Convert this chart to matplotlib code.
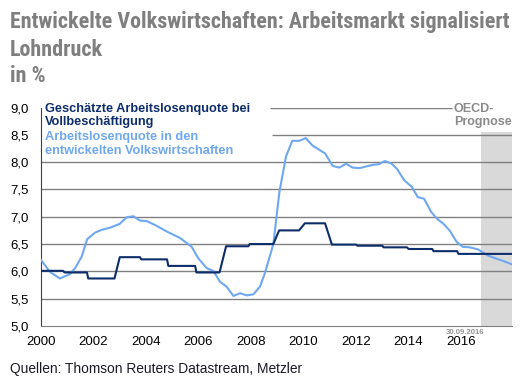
import numpy as np
import matplotlib
matplotlib.use('Agg')
import matplotlib.pyplot as plt

# geschaetzte Arbeitslosenquote bei Vollbeschaeftigung (Stufen)
nairu_t = [2000.0, 2000.84, 2000.9, 2001.75, 2001.8, 2002.8, 2003.0, 2003.77, 2003.82,
           2004.8, 2004.85, 2005.87, 2005.92, 2006.8, 2007.05, 2007.9, 2007.95, 2008.85,
           2009.07, 2009.83, 2010.05, 2010.82, 2011.08, 2012.0, 2012.05, 2013.0, 2013.05,
           2013.94, 2014.0, 2014.9, 2014.95, 2015.85, 2015.9, 2017.94]
nairu_v = [6.01, 6.01, 5.98, 5.98, 5.87, 5.87, 6.26, 6.26, 6.22,
           6.22, 6.10, 6.10, 5.98, 5.98, 6.46, 6.46, 6.50, 6.50,
           6.75, 6.75, 6.88, 6.88, 6.49, 6.49, 6.47, 6.47, 6.44,
           6.44, 6.41, 6.41, 6.37, 6.37, 6.32, 6.32]

# Arbeitslosenquote entwickelte Volkswirtschaften
ur_t = [2000.0, 2000.34, 2000.72, 2001.1, 2001.3, 2001.55, 2001.76, 2002.06, 2002.31,
        2002.63, 2003.0, 2003.26, 2003.52, 2003.77, 2004.03, 2004.34, 2004.79, 2005.3,
        2005.74, 2005.99, 2006.31, 2006.56, 2006.82, 2007.07, 2007.33, 2007.58, 2007.84,
        2008.09, 2008.34, 2008.53, 2008.85, 2009.08, 2009.33, 2009.57, 2009.84, 2010.08,
        2010.35, 2010.82, 2011.11, 2011.36, 2011.62, 2011.87, 2012.13, 2012.38, 2012.64,
        2012.85, 2013.1, 2013.36, 2013.57, 2013.83, 2014.12, 2014.35, 2014.59, 2014.86,
        2015.07, 2015.33, 2015.58, 2015.83, 2016.06, 2016.34, 2016.66, 2016.98, 2017.3,
        2017.61, 2017.93]
ur_v = [6.21, 5.99, 5.87, 5.95, 6.06, 6.27, 6.59, 6.71, 6.76,
        6.80, 6.87, 6.99, 7.01, 6.93, 6.92, 6.85, 6.73, 6.61,
        6.45, 6.24, 6.06, 6.01, 5.81, 5.72, 5.55, 5.60, 5.56,
        5.58, 5.72, 5.97, 6.50, 7.45, 8.10, 8.39, 8.39, 8.44,
        8.30, 8.16, 7.93, 7.90, 7.97, 7.90, 7.89, 7.92, 7.95,
        7.96, 8.02, 7.97, 7.87, 7.67, 7.55, 7.36, 7.33, 7.09,
        6.97, 6.87, 6.74, 6.54, 6.45, 6.44, 6.40, 6.30, 6.24,
        6.19, 6.13]

yticks = [5.0, 5.5, 6.0, 6.5, 7.0, 7.5, 8.0, 8.5, 9.0]
xticks = [2000, 2002, 2004, 2006, 2008, 2010, 2012, 2014, 2016]

plt.rcParams['font.family'] = ['Liberation Sans', 'DejaVu Sans']
title_font = ['Roboto Condensed', 'Roboto', 'DejaVu Sans']
W, H = 522, 392

def px(x, y):
    return x / W, 1 - y / H

fig = plt.figure(figsize=(5.22, 3.92), dpi=100)
ax = fig.add_axes([41/W, 1-326/H, (512-41)/W, (326-107.5)/H])
ax.set_xlim(2000, 2017.94)
ax.set_ylim(5.0, 9.0)

grid_c = '#808080'
ax.axvspan(2016.75, 2017.94, ymin=0, ymax=(8.56-5)/4, color='#d9d9d9', lw=0, zorder=0)
for y in yticks[1:8]:
    x0 = 2008.8 if y == 8.5 else 2000
    ax.hlines(y, x0, 2017.94, color=grid_c, lw=1, zorder=1)
ax.hlines(9.0, 2008.72, 2015.66, color=grid_c, lw=1, zorder=1)

ax.plot(ur_t, ur_v, color='#6fa8f0', lw=1.5, zorder=3)
ax.plot(nairu_t, nairu_v, color='#0d2d6b', lw=1.5, zorder=4)

for s in ['top', 'right']:
    ax.spines[s].set_visible(False)
ax.spines['left'].set_color('#404040')
ax.spines['bottom'].set_color(grid_c)
ax.set_yticks(yticks)
ax.set_yticklabels([f'{v:.1f}'.replace('.', ',') for v in yticks])
ax.set_xticks(xticks)
ax.set_xticklabels([str(x) for x in xticks])
ax.tick_params(length=0, labelsize=9.5, colors='black', pad=9)
ax.tick_params(axis='x', pad=7)

# Legende als Text im Diagramm
leg_lines = [('Geschätzte Arbeitslosenquote bei', '#0d2d6b', 112),
             ('Vollbeschäftigung', '#0d2d6b', 125.5),
             ('Arbeitslosenquote in den', '#6fa8f0', 140),
             ('entwickelten Volkswirtschaften', '#6fa8f0', 154)]
for txt, c, yb in leg_lines:
    fig.text(*px(45, yb), txt, ha='left', va='baseline', fontsize=9.2, fontweight='bold', color=c)

fig.text(*px(454, 112), 'OECD-', ha='left', va='baseline', fontsize=9, fontweight='bold', color='#8a8a8a')
fig.text(*px(454, 124.5), 'Prognose', ha='left', va='baseline', fontsize=9, fontweight='bold', color='#8a8a8a')
fig.text(*px(465, 334.5), '30.09.2016', ha='center', va='baseline', fontsize=5.6, fontweight='bold', color='#959595')

fig.text(*px(10, 28), 'Entwickelte Volkswirtschaften: Arbeitsmarkt signalisiert', ha='left', va='baseline',
         fontsize=15.8, fontweight='bold', color='#7f7f7f', family=title_font)
fig.text(*px(10, 56), 'Lohndruck', ha='left', va='baseline',
         fontsize=15.8, fontweight='bold', color='#7f7f7f', family=title_font)
fig.text(*px(10, 82), 'in %', ha='left', va='baseline', fontsize=15.8, fontweight='bold',
         color='#7f7f7f', family=title_font)
fig.text(*px(10, 373), 'Quellen: Thomson Reuters Datastream, Metzler', ha='left', va='baseline',
         fontsize=9.9, color='#1a1a24')

fig.savefig('out.png', dpi=100)
